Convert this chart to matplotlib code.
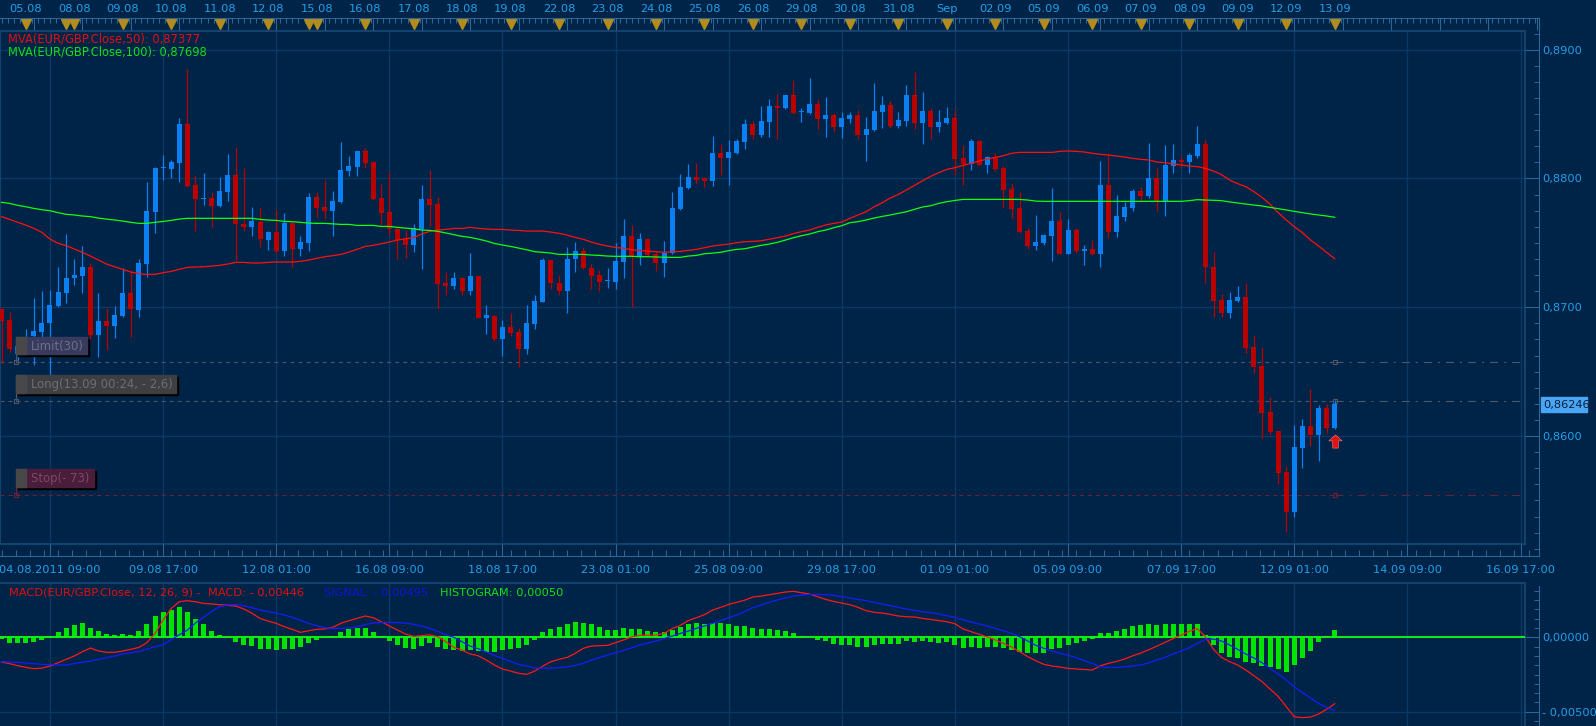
import numpy as np
import matplotlib
matplotlib.use("Agg")
import matplotlib.pyplot as plt
from matplotlib.patches import Rectangle
from matplotlib.path import Path
from matplotlib.ticker import FixedLocator, MultipleLocator, FuncFormatter

plt.rcParams.update({
    "font.family": "DejaVu Sans",
    "font.size": 8.2,
    "lines.scale_dashes": False,
})

# ---------------- data (EUR/GBP, 4h candles, 04.08 - 13.09.2011) ----------------
open_ = [0.86983, 0.86900, 0.86640, 0.86680, 0.86776, 0.86807, 0.86875, 0.87012, 0.87113, 0.87224,
         0.87245, 0.87309, 0.86784, 0.86893, 0.86856, 0.86931, 0.87113, 0.86978, 0.87338, 0.87742,
         0.88080, 0.88073, 0.88122, 0.88422, 0.87949, 0.87837, 0.87850, 0.87788, 0.87897, 0.88026,
         0.87646, 0.87625, 0.87664, 0.87524, 0.87581, 0.87439, 0.87651, 0.87452, 0.87501, 0.87853,
         0.87775, 0.87747, 0.87819, 0.88060, 0.88091, 0.88212, 0.88130, 0.87845, 0.87736, 0.87604,
         0.87526, 0.87482, 0.87604, 0.87840, 0.87801, 0.87188, 0.87164, 0.87226, 0.87125, 0.87242,
         0.86918, 0.86934, 0.86753, 0.86843, 0.86804, 0.86675, 0.86869, 0.87043, 0.87366, 0.87185,
         0.87128, 0.87371, 0.87436, 0.87301, 0.87250, 0.87203, 0.87198, 0.87353, 0.87552, 0.87387,
         0.87529, 0.87410, 0.87345, 0.87418, 0.87762, 0.87928, 0.88013, 0.88000, 0.87982, 0.88194,
         0.88161, 0.88200, 0.88285, 0.88422, 0.88337, 0.88440, 0.88562, 0.88544, 0.88647, 0.88515,
         0.88510, 0.88577, 0.88461, 0.88492, 0.88401, 0.88461, 0.88492, 0.88337, 0.88376, 0.88518,
         0.88570, 0.88409, 0.88448, 0.88647, 0.88427, 0.88523, 0.88401, 0.88432, 0.88469, 0.88161,
         0.88112, 0.88290, 0.88104, 0.88163, 0.88083, 0.87918, 0.87773, 0.87592, 0.87475, 0.87501,
         0.87553, 0.87669, 0.87413, 0.87599, 0.87436, 0.87452, 0.87413, 0.87949, 0.87586, 0.87703,
         0.87773, 0.87902, 0.87866, 0.88000, 0.87827, 0.88099, 0.88143, 0.88130, 0.88177, 0.88267,
         0.87310, 0.87056, 0.86958, 0.87048, 0.87077, 0.86688, 0.86543, 0.86189, 0.86039, 0.85723,
         0.85412, 0.85909, 0.86078, 0.86008, 0.86220, 0.86060]
high = [0.86991, 0.86960, 0.86740, 0.86830, 0.87074, 0.87128, 0.87133, 0.87309, 0.87568, 0.87371,
        0.87475, 0.87340, 0.87113, 0.86991, 0.87009, 0.87301, 0.87289, 0.87374, 0.87974, 0.88091,
        0.88181, 0.88143, 0.88466, 0.88847, 0.88026, 0.88039, 0.87892, 0.88008, 0.88189, 0.88241,
        0.88078, 0.87775, 0.87775, 0.87594, 0.87760, 0.87729, 0.87656, 0.87553, 0.87884, 0.87892,
        0.87987, 0.87902, 0.88280, 0.88173, 0.88215, 0.88233, 0.88137, 0.87956, 0.88052, 0.87612,
        0.87599, 0.87646, 0.87948, 0.88065, 0.87853, 0.87270, 0.87270, 0.87237, 0.87418, 0.87245,
        0.87017, 0.86939, 0.86900, 0.86952, 0.86836, 0.87017, 0.87094, 0.87384, 0.87370, 0.87250,
        0.87470, 0.87508, 0.87470, 0.87335, 0.87289, 0.87301, 0.87495, 0.87684, 0.87635, 0.87573,
        0.87537, 0.87436, 0.87514, 0.87892, 0.88034, 0.88112, 0.88117, 0.88008, 0.88329, 0.88267,
        0.88298, 0.88306, 0.88458, 0.88448, 0.88562, 0.88616, 0.88655, 0.88650, 0.88764, 0.88549,
        0.88782, 0.88616, 0.88634, 0.88505, 0.88518, 0.88518, 0.88531, 0.88479, 0.88743, 0.88639,
        0.88601, 0.88518, 0.88725, 0.88823, 0.88668, 0.88544, 0.88531, 0.88557, 0.88531, 0.88259,
        0.88306, 0.88298, 0.88174, 0.88194, 0.88096, 0.87962, 0.87897, 0.87612, 0.87716, 0.87568,
        0.87923, 0.87736, 0.87685, 0.87612, 0.87483, 0.87522, 0.88135, 0.88187, 0.87871, 0.87819,
        0.87918, 0.87931, 0.88277, 0.88078, 0.88259, 0.88267, 0.88174, 0.88195, 0.88407, 0.88303,
        0.87426, 0.87102, 0.87120, 0.87165, 0.87190, 0.86784, 0.86688, 0.86305, 0.86039, 0.85767,
        0.86085, 0.86129, 0.86362, 0.86241, 0.86248, 0.86280]
low = [0.86564, 0.86654, 0.86590, 0.86620, 0.86551, 0.86770, 0.86470, 0.87000, 0.87035, 0.87172,
       0.87107, 0.86745, 0.86613, 0.86668, 0.86760, 0.86921, 0.86770, 0.86921, 0.87237, 0.87573,
       0.87987, 0.88000, 0.87974, 0.87936, 0.87594, 0.87793, 0.87620, 0.87780, 0.87827, 0.87361,
       0.87594, 0.87555, 0.87470, 0.87444, 0.87423, 0.87397, 0.87309, 0.87397, 0.87439, 0.87697,
       0.87684, 0.87555, 0.87810, 0.88021, 0.88021, 0.88083, 0.87832, 0.87638, 0.87560, 0.87371,
       0.87379, 0.87431, 0.87296, 0.87630, 0.86986, 0.87094, 0.87141, 0.87094, 0.87094, 0.86915,
       0.86791, 0.86740, 0.86623, 0.86779, 0.86533, 0.86634, 0.86830, 0.87040, 0.87141, 0.87094,
       0.86957, 0.87275, 0.87296, 0.87141, 0.87125, 0.87151, 0.87141, 0.87229, 0.87004, 0.87327,
       0.87392, 0.87283, 0.87237, 0.87410, 0.87754, 0.87920, 0.87956, 0.87936, 0.87941, 0.88026,
       0.87949, 0.88190, 0.88228, 0.88306, 0.88324, 0.88324, 0.88306, 0.88539, 0.88500, 0.88440,
       0.88500, 0.88383, 0.88324, 0.88363, 0.88316, 0.88432, 0.88306, 0.88137, 0.88370, 0.88394,
       0.88394, 0.88394, 0.88409, 0.88383, 0.88264, 0.88306, 0.88363, 0.88420, 0.88026, 0.87949,
       0.88065, 0.88099, 0.88044, 0.88057, 0.87773, 0.87695, 0.87573, 0.87452, 0.87444, 0.87483,
       0.87361, 0.87410, 0.87410, 0.87423, 0.87328, 0.87405, 0.87315, 0.87540, 0.87548, 0.87669,
       0.87749, 0.87819, 0.87850, 0.87749, 0.87711, 0.88039, 0.88091, 0.88044, 0.88156, 0.87185,
       0.86926, 0.86926, 0.86919, 0.87038, 0.86642, 0.86486, 0.85974, 0.86008, 0.85625, 0.85257,
       0.85374, 0.85754, 0.85925, 0.85806, 0.86021, 0.86052]
close = [0.86895, 0.86673, 0.86700, 0.86740, 0.86817, 0.86877, 0.87017, 0.87115, 0.87224, 0.87250,
         0.87309, 0.86784, 0.86893, 0.86856, 0.86939, 0.87113, 0.86983, 0.87345, 0.87747, 0.88083,
         0.88091, 0.88130, 0.88422, 0.87941, 0.87837, 0.87850, 0.87788, 0.87902, 0.88026, 0.87643,
         0.87625, 0.87669, 0.87527, 0.87581, 0.87439, 0.87651, 0.87452, 0.87503, 0.87853, 0.87773,
         0.87747, 0.87824, 0.88065, 0.88096, 0.88212, 0.88122, 0.87840, 0.87734, 0.87604, 0.87521,
         0.87482, 0.87612, 0.87840, 0.87793, 0.87180, 0.87167, 0.87226, 0.87125, 0.87242, 0.86918,
         0.86939, 0.86753, 0.86843, 0.86802, 0.86675, 0.86874, 0.87048, 0.87366, 0.87185, 0.87128,
         0.87374, 0.87436, 0.87301, 0.87244, 0.87198, 0.87211, 0.87358, 0.87552, 0.87397, 0.87529,
         0.87405, 0.87345, 0.87423, 0.87773, 0.87936, 0.88013, 0.87987, 0.87982, 0.88194, 0.88161,
         0.88202, 0.88290, 0.88422, 0.88337, 0.88445, 0.88562, 0.88549, 0.88647, 0.88505, 0.88523,
         0.88577, 0.88461, 0.88492, 0.88401, 0.88466, 0.88492, 0.88337, 0.88383, 0.88523, 0.88570,
         0.88409, 0.88453, 0.88647, 0.88427, 0.88523, 0.88401, 0.88440, 0.88469, 0.88150, 0.88112,
         0.88290, 0.88104, 0.88163, 0.88070, 0.87910, 0.87762, 0.87581, 0.87478, 0.87504, 0.87560,
         0.87669, 0.87413, 0.87599, 0.87436, 0.87452, 0.87413, 0.87949, 0.87586, 0.87708, 0.87775,
         0.87902, 0.87866, 0.88000, 0.87827, 0.88104, 0.88143, 0.88130, 0.88182, 0.88267, 0.87310,
         0.87051, 0.86958, 0.87056, 0.87077, 0.86686, 0.86538, 0.86181, 0.86033, 0.85715, 0.85412,
         0.85917, 0.86078, 0.86008, 0.86220, 0.86064, 0.86246]

ma50 = [0.87703, 0.87682, 0.87659, 0.87638, 0.87612, 0.87581, 0.87529, 0.87496, 0.87478, 0.87452,
        0.87426, 0.87397, 0.87366, 0.87335, 0.87314, 0.87294, 0.87273, 0.87260, 0.87255, 0.87255,
        0.87268, 0.87278, 0.87294, 0.87309, 0.87312, 0.87314, 0.87319, 0.87325, 0.87335, 0.87348,
        0.87348, 0.87343, 0.87343, 0.87348, 0.87351, 0.87351, 0.87351, 0.87356, 0.87366, 0.87379,
        0.87392, 0.87400, 0.87410, 0.87428, 0.87449, 0.87472, 0.87480, 0.87493, 0.87506, 0.87521,
        0.87532, 0.87539, 0.87568, 0.87589, 0.87599, 0.87604, 0.87612, 0.87612, 0.87620, 0.87612,
        0.87607, 0.87604, 0.87604, 0.87599, 0.87596, 0.87591, 0.87591, 0.87591, 0.87583, 0.87573,
        0.87560, 0.87542, 0.87527, 0.87506, 0.87488, 0.87475, 0.87464, 0.87457, 0.87446, 0.87441,
        0.87436, 0.87431, 0.87426, 0.87431, 0.87433, 0.87441, 0.87449, 0.87462, 0.87475, 0.87483,
        0.87490, 0.87501, 0.87509, 0.87511, 0.87516, 0.87527, 0.87539, 0.87552, 0.87571, 0.87586,
        0.87599, 0.87620, 0.87638, 0.87651, 0.87661, 0.87690, 0.87716, 0.87741, 0.87780, 0.87811,
        0.87848, 0.87876, 0.87910, 0.87946, 0.87982, 0.88016, 0.88044, 0.88070, 0.88083, 0.88101,
        0.88117, 0.88135, 0.88150, 0.88163, 0.88176, 0.88195, 0.88202, 0.88202, 0.88202, 0.88202,
        0.88202, 0.88210, 0.88213, 0.88210, 0.88205, 0.88195, 0.88187, 0.88182, 0.88174, 0.88166,
        0.88156, 0.88148, 0.88143, 0.88127, 0.88122, 0.88112, 0.88104, 0.88096, 0.88091, 0.88078,
        0.88057, 0.88029, 0.87987, 0.87959, 0.87936, 0.87897, 0.87853, 0.87799, 0.87734, 0.87677,
        0.87625, 0.87579, 0.87522, 0.87475, 0.87425, 0.87377]
ma100 = [0.87814, 0.87806, 0.87791, 0.87780, 0.87767, 0.87757, 0.87749, 0.87734, 0.87721, 0.87716,
         0.87708, 0.87703, 0.87692, 0.87684, 0.87677, 0.87669, 0.87659, 0.87651, 0.87651, 0.87659,
         0.87666, 0.87674, 0.87684, 0.87690, 0.87690, 0.87690, 0.87690, 0.87690, 0.87690, 0.87690,
         0.87690, 0.87690, 0.87682, 0.87677, 0.87674, 0.87666, 0.87664, 0.87659, 0.87653, 0.87651,
         0.87651, 0.87647, 0.87643, 0.87643, 0.87635, 0.87635, 0.87635, 0.87627, 0.87627, 0.87620,
         0.87614, 0.87609, 0.87599, 0.87596, 0.87589, 0.87576, 0.87563, 0.87550, 0.87542, 0.87529,
         0.87514, 0.87495, 0.87483, 0.87472, 0.87459, 0.87446, 0.87431, 0.87426, 0.87420, 0.87410,
         0.87410, 0.87410, 0.87410, 0.87405, 0.87402, 0.87397, 0.87395, 0.87395, 0.87395, 0.87392,
         0.87392, 0.87390, 0.87388, 0.87387, 0.87387, 0.87397, 0.87402, 0.87415, 0.87420, 0.87426,
         0.87439, 0.87449, 0.87454, 0.87467, 0.87480, 0.87490, 0.87503, 0.87521, 0.87539, 0.87555,
         0.87568, 0.87586, 0.87599, 0.87617, 0.87633, 0.87656, 0.87664, 0.87677, 0.87692, 0.87705,
         0.87716, 0.87729, 0.87741, 0.87760, 0.87778, 0.87788, 0.87806, 0.87819, 0.87829, 0.87837,
         0.87837, 0.87837, 0.87837, 0.87837, 0.87837, 0.87837, 0.87837, 0.87832, 0.87824, 0.87822,
         0.87822, 0.87822, 0.87822, 0.87822, 0.87822, 0.87822, 0.87822, 0.87822, 0.87822, 0.87822,
         0.87822, 0.87822, 0.87822, 0.87822, 0.87822, 0.87822, 0.87822, 0.87827, 0.87835, 0.87832,
         0.87830, 0.87827, 0.87817, 0.87809, 0.87801, 0.87793, 0.87786, 0.87775, 0.87765, 0.87755,
         0.87744, 0.87734, 0.87724, 0.87716, 0.87708, 0.87698]

# MACD pane values, in units of 0.0001
macd_e4 = [-16.6, -17.7, -19.1, -20.2, -21.1, -20.7, -19.3, -17.1, -14.8, -12.6,
           -9.7, -7.2, -9.2, -10.1, -10.1, -9.2, -8.1, -6.8, -3.6, 2.6,
           11.6, 19.4, 23.9, 24.6, 23.9, 22.8, 22.4, 21.9, 21.5, 21.0,
           19.0, 16.1, 12.7, 10.9, 9.4, 7.1, 5.3, 3.3, 4.4, 5.3,
           5.6, 6.7, 9.4, 11.2, 12.7, 14.3, 13.2, 10.5, 7.6, 4.9,
           2.2, 0.6, 1.1, 1.6, 0.4, -3.0, -6.8, -8.6, -11.2, -12.4,
           -15.3, -18.6, -21.3, -22.7, -24.2, -24.9, -22.7, -19.3, -16.4, -14.8,
           -13.5, -10.8, -7.4, -5.9, -5.6, -5.4, -3.6, -1.8, 0.4, 1.3,
           1.5, 1.5, 2.6, 5.8, 8.0, 11.2, 13.2, 15.2, 18.3, 20.1,
           22.1, 23.5, 25.0, 27.1, 27.7, 28.6, 29.5, 30.4, 30.9, 30.0,
           29.1, 27.3, 25.5, 24.1, 23.0, 21.9, 20.1, 17.9, 16.8, 16.3,
           15.4, 14.3, 13.8, 13.6, 12.7, 12.0, 11.2, 10.5, 9.1, 5.6,
           3.8, 2.0, 0.2, -1.8, -4.1, -6.5, -9.7, -13.0, -15.7, -18.2,
           -19.3, -20.0, -20.9, -21.3, -21.6, -22.0, -19.1, -17.5, -16.2, -14.6,
           -12.4, -10.6, -8.3, -5.9, -3.4, -0.9, 1.5, 4.0, 5.8, 0.4,
           -8.1, -13.5, -16.4, -18.6, -22.0, -25.8, -29.8, -34.8, -39.7, -46.6,
           -53.4, -54.0, -53.6, -51.6, -48.4, -44.6]
signal_e4 = [-16.4, -16.6, -16.8, -17.3, -17.7, -18.2, -18.4, -18.6, -18.6, -17.7,
             -16.8, -16.0, -14.8, -13.7, -12.6, -11.2, -10.4, -9.5, -7.9, -6.3,
             -5.0, -1.6, 1.7, 4.9, 9.6, 13.4, 17.4, 20.6, 21.7, 22.1,
             21.2, 19.9, 18.3, 17.2, 16.3, 15.0, 13.4, 11.4, 9.4, 7.8,
             6.4, 6.0, 6.0, 6.2, 7.1, 8.5, 9.6, 10.0, 10.0, 9.8,
             9.6, 8.7, 7.6, 6.0, 4.0, 1.7, 0.0, -3.0, -5.9, -7.7,
             -9.9, -12.1, -14.2, -16.2, -18.2, -19.3, -20.7, -20.7, -20.7, -20.4,
             -19.8, -18.9, -17.5, -15.3, -13.7, -11.9, -10.4, -8.8, -7.0, -5.2,
             -3.9, -2.5, -0.9, 0.8, 2.6, 4.2, 6.0, 7.6, 9.4, 11.2,
             13.2, 15.0, 17.4, 19.9, 21.7, 23.5, 25.0, 26.4, 27.7, 28.4,
             28.8, 28.8, 28.6, 28.2, 27.3, 26.4, 25.5, 24.6, 23.5, 22.4,
             21.2, 20.1, 19.0, 18.1, 17.2, 16.5, 15.6, 14.5, 13.4, 11.8,
             10.3, 8.9, 7.6, 6.0, 4.4, 2.6, 0.4, -2.5, -5.4, -7.4,
             -9.2, -10.8, -12.1, -13.7, -15.7, -17.5, -19.8, -20.2, -20.2, -19.8,
             -19.3, -18.6, -17.1, -15.3, -13.5, -11.2, -9.2, -7.0, -4.1, -1.4,
             -1.2, -2.5, -5.2, -8.1, -11.2, -13.9, -17.1, -20.9, -24.7, -28.7,
             -33.2, -37.2, -40.8, -44.4, -47.1, -49.3]
hist_e4 = [-1.0, -3.6, -3.6, -3.6, -2.9, -1.8, 0.9, 3.6, 6.0, 8.3,
           9.9, 6.0, 4.3, 2.2, 1.6, 2.2, 1.6, 4.3, 9.0, 14.3,
           17.0, 18.4, 20.6, 16.8, 12.1, 9.0, 4.3, 1.6, 0.3, -2.9,
           -5.2, -5.8, -7.8, -8.1, -8.5, -8.1, -7.8, -6.7, -3.6, -1.8,
           0.0, 0.9, 3.6, 5.4, 6.0, 6.0, 3.6, 0.9, -2.2, -5.2,
           -6.9, -7.8, -5.8, -4.0, -6.3, -8.1, -8.5, -9.2, -8.5, -9.0,
           -9.6, -9.6, -8.5, -7.8, -7.4, -5.2, -1.8, 3.6, 5.6, 6.7,
           9.0, 10.1, 9.9, 9.0, 6.7, 4.9, 4.9, 6.0, 5.6, 5.4,
           4.3, 3.6, 3.6, 4.9, 6.7, 9.0, 9.9, 9.0, 9.9, 9.9,
           9.0, 7.6, 7.6, 6.0, 5.6, 5.6, 4.9, 4.3, 3.1, 0.9,
           0.0, -1.8, -2.5, -4.5, -5.2, -5.2, -6.3, -6.3, -5.2, -4.5,
           -4.5, -4.5, -2.2, -2.9, -2.2, -2.9, -3.6, -2.9, -5.2, -6.9,
           -6.7, -7.4, -6.3, -6.7, -7.4, -8.5, -9.6, -10.8, -10.8, -10.3,
           -7.8, -6.9, -5.2, -3.6, -2.2, -1.3, 3.1, 3.1, 4.3, 5.6,
           7.6, 8.3, 9.0, 8.3, 9.0, 9.0, 9.0, 9.0, 9.0, 1.6,
           -5.2, -10.3, -13.0, -13.7, -16.4, -17.5, -19.0, -19.7, -21.3, -23.1,
           -18.6, -13.7, -9.0, -2.9, 0.9, 4.9]

top_days = ["05.08", "08.08", "09.08", "10.08", "11.08", "12.08", "15.08", "16.08", "17.08",
            "18.08", "19.08", "22.08", "23.08", "24.08", "25.08", "26.08", "29.08", "30.08",
            "31.08", "Sep", "02.09", "05.09", "06.09", "07.09", "08.09", "09.09", "12.09", "13.09"]
top_day_idx = list(range(3, 166, 6))
event_idx = top_day_idx + [8, 38]

time_labels = ["04.08.2011 09:00", "09.08 17:00", "12.08 01:00", "16.08 09:00", "18.08 17:00",
               "23.08 01:00", "25.08 09:00", "29.08 17:00", "01.09 01:00", "05.09 09:00",
               "07.09 17:00", "12.09 01:00", "14.09 09:00", "16.09 17:00"]
time_idx = list(range(6, 189, 14))

price_ticks = [0.86, 0.87, 0.88, 0.89]
macd_ticks = [0.0, -0.005]

entry_price = 0.86272
limit_price = 0.86572
stop_price = 0.85542
last_price = 0.86246
signal_price = 0.85961

# ---------------- style ----------------
W, H = 1596, 726
BG = "#002447"
GRID = "#0c3864"
FRAME = "#13426f"
AXLINE = "#2b6798"
LABEL = "#20a0ea"
UP = "#0a80f2"
DOWN = "#bb0000"
TRI = "#b38c1e"

X0_PX, STEP_PX = 1.5, 8.08          # pixel position of candle 0, pixels per candle


def xl(px):
    return (px - X0_PX) / STEP_PX


def price_at(ypx):
    return 0.86 + (436.0 - ypx) / 12880.0


def macd_at(ypx):
    return (637.3 - ypx) / 74.4 * 0.005


fig = plt.figure(figsize=(W / 100, H / 100), dpi=100, facecolor=BG)


def px_axes(x0, y0, x1, y1, **kw):
    return fig.add_axes([x0 / W, 1 - y1 / H, (x1 - x0) / W, (y1 - y0) / H], **kw)


idx = np.arange(len(close))
o, hi, lo, c = map(np.array, (open_, high, low, close))
cols = np.where(c >= o, UP, DOWN)

# ---------------- main price pane ----------------
ax = px_axes(0, 30.7, 1525, 543.5)
ax.set_facecolor(BG)
ax.set_xlim(xl(0), xl(1525))
ax.set_ylim(price_at(543.5), price_at(30.7))
ax.set_xticks(time_idx)
ax.set_yticks(price_ticks)
ax.grid(True, color=GRID, lw=1.0)
ax.set_axisbelow(True)
ax.tick_params(length=0, labelbottom=False, labelleft=False)
for s in ax.spines.values():
    s.set_color(FRAME)
    s.set_linewidth(1.5)

ax.vlines(idx, lo, hi, colors=cols, lw=0.9, zorder=3)
ax.bar(idx, np.maximum(np.abs(c - o), 0.00009), bottom=np.minimum(o, c),
       width=0.62, color=cols, lw=0, zorder=4)
ax.plot(idx, ma50, color="#ff1010", lw=0.9, zorder=5)
ax.plot(idx, ma100, color="#12ff12", lw=0.9, zorder=5)

xmin, xmax = ax.get_xlim()
last_i = idx[-1]
for p, lc in ((limit_price, "#4e5668"), (entry_price, "#4e5668"), (stop_price, "#6e2036")):
    ax.hlines(p, xmin, last_i, colors=lc, lw=0.8, linestyles=(0, (2.9, 2.9)), zorder=2)
    ax.hlines(p, last_i, xmax, colors=lc, lw=0.8,
              linestyles=(0, (5.8, 4.3, 1.5, 4.3)), zorder=2)
    ax.plot([last_i], [p], marker="s", ms=2.5, mfc="none", mec=lc, mew=0.8, zorder=2)

arrow = Path([(0, 1), (1, 0.1), (0.42, 0.1), (0.42, -1), (-0.42, -1), (-0.42, 0.1), (-1, 0.1), (0, 1)],
             [Path.MOVETO] + [Path.LINETO] * 6 + [Path.CLOSEPOLY])
ax.scatter([last_i], [signal_price], marker=arrow, s=90, color="#e01414",
           edgecolors="#ff7a7a", linewidths=0.4, zorder=7)

# ---------------- MACD pane ----------------
axm = px_axes(0, 583.3, 1525, 726)
axm.set_facecolor(BG)
axm.set_xlim(xl(0), xl(1525))
axm.set_ylim(macd_at(726), macd_at(583.3))
axm.set_xticks(time_idx)
axm.set_yticks(macd_ticks)
axm.grid(True, color=GRID, lw=1.0)
axm.set_axisbelow(True)
axm.tick_params(length=0, labelbottom=False, labelleft=False)
for name, s in axm.spines.items():
    s.set_color(FRAME)
    s.set_linewidth(1.5)
    s.set_visible(name in ("top", "right"))

axm.bar(idx, np.array(hist_e4) * 1e-4, width=0.62, color="#00e400", lw=0, zorder=2)
axm.axhline(0, color="#10ff10", lw=1.3, zorder=3)
axm.plot(idx, np.array(macd_e4) * 1e-4, color="#ff1818", lw=0.9, zorder=4)
axm.plot(idx, np.array(signal_e4) * 1e-4, color="#1a1aff", lw=0.9, zorder=4)

# ---------------- top date strip ----------------
axt = px_axes(0, 0, 1539, 18.3)
axt.set_facecolor("none")
axt.set_xlim(xl(0), xl(1539))
axt.set_ylim(18.3, 0)
for name, s in axt.spines.items():
    s.set_visible(name == "bottom")
    s.set_color(AXLINE)
axt.xaxis.set_major_locator(FixedLocator(list(range(4, 191, 6))))
axt.xaxis.set_minor_locator(MultipleLocator(0.75))
axt.tick_params(axis="x", which="major", direction="out", length=8.9, width=0.72,
                color=AXLINE, labelbottom=False)
axt.tick_params(axis="x", which="minor", direction="out", length=3.6, width=0.72, color=AXLINE)
axt.set_yticks([])
for i, lab in zip(top_day_idx, top_days):
    axt.text(i, 9, lab, ha="center", va="center", color=LABEL, fontsize=8.2)
axt.plot(event_idx, [23.8] * len(event_idx), "v", ls="none", ms=6.5, color=TRI, clip_on=False)

# ---------------- bottom time strip ----------------
axb = px_axes(0, 555.7, 1539, 583.3)
axb.set_facecolor("none")
axb.set_xlim(xl(0), xl(1539))
axb.set_ylim(583.3, 555.7)
for name, s in axb.spines.items():
    s.set_visible(name == "top")
    s.set_color(AXLINE)
axb.xaxis.set_ticks_position("top")
axb.xaxis.set_major_locator(FixedLocator(time_idx))
axb.xaxis.set_minor_locator(MultipleLocator(1.75))
axb.tick_params(axis="x", which="major", direction="out", length=8.4, width=0.72,
                color=AXLINE, labeltop=False, labelbottom=False)
axb.tick_params(axis="x", which="minor", direction="out", length=4.3, width=0.72, color=AXLINE)
axb.set_yticks([])
for i, lab in zip(time_idx, time_labels):
    axb.text(i, 570, lab, ha="center", va="center", color=LABEL, fontsize=8.2)


# ---------------- right scales ----------------
def right_scale(y0, y1, lo_v, hi_v, major, minor, fmt):
    a = px_axes(1525, y0, 1539, y1)
    a.set_facecolor("none")
    a.set_ylim(lo_v, hi_v)
    a.set_xticks([])
    for name, s in a.spines.items():
        s.set_visible(name == "right")
        s.set_color(AXLINE)
    a.yaxis.tick_right()
    a.yaxis.set_major_locator(FixedLocator(major))
    a.yaxis.set_minor_locator(MultipleLocator(minor))
    a.yaxis.set_major_formatter(FuncFormatter(fmt))
    a.tick_params(axis="y", which="major", direction="in", length=10.1, width=0.72,
                  color=AXLINE, labelcolor=LABEL, labelsize=8.2, pad=2.2)
    a.tick_params(axis="y", which="minor", direction="in", length=3.6, width=0.72, color=AXLINE)
    return a


right_scale(18.3, 555.7, price_at(555.7), price_at(18.3), price_ticks, 0.00125,
            lambda v, p: f"{v:.4f}".replace(".", ","))


def macd_fmt(v, p):
    s = f"{abs(v):.5f}".replace(".", ",")
    return "- " + s if v < -1e-9 else s


right_scale(585.7, 726, macd_at(726), macd_at(585.7), macd_ticks, 0.000625, macd_fmt)

# ---------------- overlay: legends, order tags, price tag ----------------
ov = fig.add_axes([0, 0, 1, 1], zorder=10)
ov.set_xlim(0, W)
ov.set_ylim(H, 0)
ov.axis("off")
ov.set_facecolor("none")


def to_px(a, x, y):
    dx, dy = a.transData.transform((x, y))
    return dx, H - dy


ov.text(8.3, 39.3, "MVA(EUR/GBP.Close,50): 0,87377", color="#e01010", va="center", fontsize=8.3)
ov.text(8.3, 52.3, "MVA(EUR/GBP.Close,100): 0,87698", color="#12e012", va="center", fontsize=8.3)
ov.text(8.7, 592.7, "MACD(EUR/GBP.Close, 12, 26, 9) -  MACD: - 0,00446", color="#e01010",
        va="center", fontsize=8.2)
ov.text(324, 592.7, "SIGNAL: - 0,00495", color="#1414d8", va="center", fontsize=8.2)
ov.text(440, 592.7, "HISTOGRAM: 0,00050", color="#12e012", va="center", fontsize=8.2)


def order_tag(price, text, width, fill, txtcol, linecol):
    _, ly = to_px(ax, 0, price)
    x, h = 16, 17.5
    top = ly - 8 - h
    ov.add_patch(Rectangle((x + 2, top + 2), width, h, color="#000000", zorder=1))
    ov.add_patch(Rectangle((x, top), width, h, color=fill, zorder=2))
    ov.add_patch(Rectangle((x, top), 10, h, color="#48484a", zorder=3))
    ov.text(x + 15, top + h / 2 + 0.5, text, color=txtcol, va="center", ha="left",
            fontsize=8.4, zorder=4)
    ov.plot([x, x], [top + h, ly], color=linecol, lw=0.8, zorder=2)
    ov.plot([x], [ly], marker="s", ms=2.5, mfc="none", mec=linecol, mew=0.8, zorder=2)


order_tag(limit_price, "Limit(30)", 71, "#393b5c", "#6c6e92", "#4e5668")
order_tag(entry_price, "Long(13.09 00:24, - 2,6)", 160, "#3d3f43", "#6c6e72", "#4e5668")
order_tag(stop_price, "Stop(- 73)", 78, "#4a1d3b", "#7e4766", "#6e2036")

_, ty = to_px(ax, 0, last_price)
ov.add_patch(Rectangle((1540.7, ty - 7.6), 46.6, 15.3, color="#4aa5f5", zorder=2))
ov.text(1543, ty + 0.5, f"{last_price:.5f}".replace(".", ","), color="#04203c",
        va="center", ha="left", fontsize=8.2, zorder=3)

fig.savefig("out.png", dpi=100, facecolor=BG)
